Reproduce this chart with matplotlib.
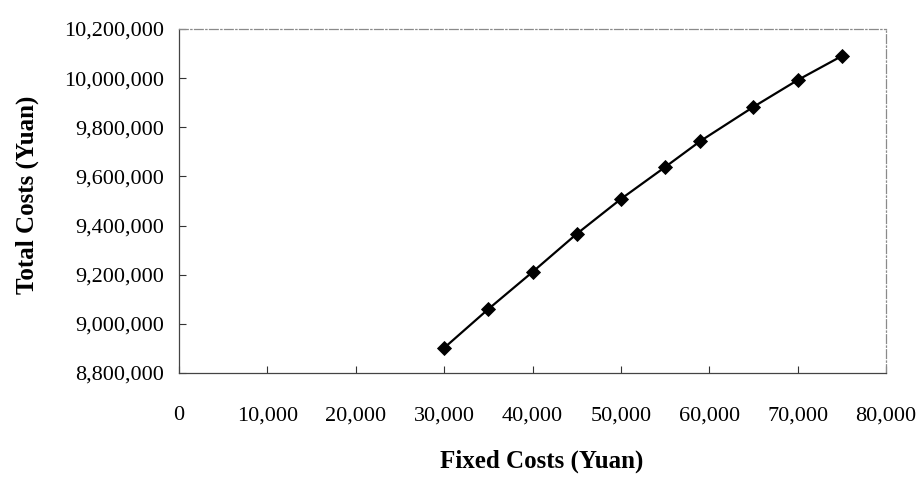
import matplotlib
matplotlib.use("Agg")
import matplotlib.pyplot as plt
from matplotlib.ticker import StrMethodFormatter, MultipleLocator

# Couts fixes (Yuan) et couts totaux correspondants
FIXED_COSTS = [30000, 35000, 40000, 45000, 50000, 55000, 59000, 65000, 70000, 75000]
TOTAL_COSTS = [8902000, 9060000, 9211000, 9366000, 9508000,
               9638000, 9744000, 9883000, 9992000, 10090000]

X_LIMITS = (0, 80000)
Y_LIMITS = (8800000, 10200000)
X_STEP = 10000
Y_STEP = 200000

X_LABEL = "Fixed Costs (Yuan)"
Y_LABEL = "Total Costs (Yuan)"

plt.rcParams["font.family"] = ["Liberation Serif", "DejaVu Serif"]

fig = plt.figure(figsize=(9.21, 4.80), dpi=100)
ax = fig.add_axes([179 / 921, 1 - 373 / 480, (886 - 179) / 921, (373 - 29) / 480])

ax.plot(FIXED_COSTS, TOTAL_COSTS, color="black", linewidth=1.6,
        marker="D", markersize=7.2, markerfacecolor="black",
        markeredgecolor="black", markeredgewidth=0.6, zorder=3)

ax.set_xlim(*X_LIMITS)
ax.set_ylim(*Y_LIMITS)
ax.xaxis.set_major_locator(MultipleLocator(X_STEP))
ax.yaxis.set_major_locator(MultipleLocator(Y_STEP))
ax.xaxis.set_major_formatter(StrMethodFormatter("{x:,.0f}"))
ax.yaxis.set_major_formatter(StrMethodFormatter("{x:,.0f}"))

ax.tick_params(axis="both", direction="in", length=5, width=0.8,
               colors="#333333", labelcolor="black", labelsize=16)
ax.tick_params(axis="x", pad=24)
ax.tick_params(axis="y", pad=11)

# axes en gris fonce, cadre de la zone de trace en pointille clair
for side in ("left", "bottom"):
    ax.spines[side].set_color("#444444")
    ax.spines[side].set_linewidth(0.9)
for side in ("top", "right"):
    ax.spines[side].set_color("#8a8a8a")
    ax.spines[side].set_linewidth(0.9)
    ax.spines[side].set_linestyle((0, (7, 2, 1, 2)))

ax.set_xlabel(X_LABEL, fontsize=18, fontweight="bold")
ax.set_ylabel(Y_LABEL, fontsize=18, fontweight="bold")
ax.xaxis.set_label_coords(542 / 921, 1 - 450 / 480, transform=fig.transFigure)
ax.yaxis.set_label_coords(39 / 921, 1 - 195 / 480, transform=fig.transFigure)

fig.savefig("out.png", dpi=100, facecolor="white")
